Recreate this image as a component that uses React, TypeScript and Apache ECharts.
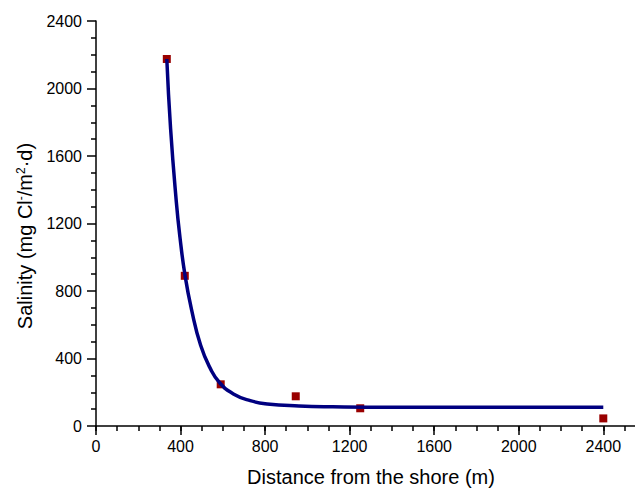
import React, { useEffect, useRef } from "react";
import * as echarts from "echarts";

// Measured deposition at each distance from the shore
const distances = [335, 420, 590, 945, 1250, 2400];
const salinity = [2175, 890, 247, 176, 105, 45];

// Fitted decay curve traced along the distance axis
const fitDistances = [335, 353, 380, 397, 421, 452, 495, 540, 586, 650, 730, 810, 960, 1120, 1400, 1800, 2400];
const fitSalinity = [2175, 1760, 1328, 1121, 894, 690, 478, 343, 255, 190, 150, 131, 119, 114, 111, 111, 111];

// Axis ticks
const xMajorTicks = [0, 400, 800, 1200, 1600, 2000, 2400];
const xMinorTicks = [0, 100, 200, 300, 400, 500, 600, 700, 800, 900, 1000, 1100, 1200, 1300, 1400, 1500, 1600, 1700, 1800, 1900, 2000, 2100, 2200, 2300, 2400, 2500];

const FONT = "'Liberation Sans', Arial, Helvetica, sans-serif";
const plain = (v: number) => String(v);

export default function App() {
  const ref = useRef<HTMLDivElement>(null);

  useEffect(() => {
    document.body.style.margin = "0";
    if (!ref.current) return;
    const chart = echarts.init(ref.current, null, { renderer: "svg" });

    const axisLine = { show: true, lineStyle: { color: "#000", width: 1.5 } };

    chart.setOption({
      animation: false,
      backgroundColor: "#fff",
      grid: { left: 96, right: 0, top: 21, bottom: 62, containLabel: false },
      xAxis: [
        {
          type: "value",
          min: 0,
          max: 2550,
          position: "bottom",
          axisLine,
          axisTick: {
            show: true,
            length: 9,
            customValues: xMajorTicks,
            lineStyle: { color: "#000", width: 1.5 },
          },
          axisLabel: {
            customValues: xMajorTicks,
            formatter: plain,
            margin: 12,
            color: "#000",
            fontSize: 16,
            fontFamily: FONT,
          },
          splitLine: { show: false },
        },
        {
          type: "value",
          min: 0,
          max: 2550,
          position: "bottom",
          axisLine: { show: false },
          axisTick: {
            show: true,
            length: 5,
            customValues: xMinorTicks,
            lineStyle: { color: "#000", width: 1.5 },
          },
          axisLabel: { show: false },
          splitLine: { show: false },
        },
      ],
      yAxis: {
        type: "value",
        min: 0,
        max: 2400,
        interval: 400,
        axisLine,
        axisTick: { show: true, length: 9, lineStyle: { color: "#000", width: 1.5 } },
        minorTick: { show: true, splitNumber: 4, length: 5, lineStyle: { color: "#000", width: 1.5 } },
        axisLabel: { formatter: plain, margin: 14, color: "#000", fontSize: 16, fontFamily: FONT },
        splitLine: { show: false },
        minorSplitLine: { show: false },
      },
      graphic: [
        {
          type: "text",
          x: 371,
          y: 477,
          style: {
            text: "Distance from the shore (m)",
            fill: "#000",
            font: `20px ${FONT}`,
            align: "center",
            verticalAlign: "middle",
          },
        },
        {
          type: "text",
          x: 25,
          y: 236,
          rotation: Math.PI / 2,
          style: {
            text: "Salinity (mg Cl{sup|-}/m{sup|2}·d)",
            fill: "#000",
            font: `20px ${FONT}`,
            fontSize: 20,
            fontFamily: FONT,
            align: "center",
            verticalAlign: "middle",
            rich: {
              sup: { fontSize: 12, fontFamily: FONT, fill: "#000", verticalAlign: "top", padding: [0, 0, 8, 0] },
            },
          },
        },
      ],
      series: [
        {
          type: "scatter",
          xAxisIndex: 0,
          symbol: "rect",
          symbolSize: 8,
          itemStyle: { color: "#990000", opacity: 1 },
          data: distances.map((d, i) => [d, salinity[i]]),
          z: 2,
        },
        {
          type: "line",
          xAxisIndex: 0,
          showSymbol: false,
          smooth: 0.5,
          lineStyle: { color: "#000080", width: 3.5 },
          data: fitDistances.map((d, i) => [d, fitSalinity[i]]),
          z: 3,
        },
      ],
    });

    return () => chart.dispose();
  }, []);

  return <div ref={ref} style={{ width: 635, height: 488 }} />;
}
